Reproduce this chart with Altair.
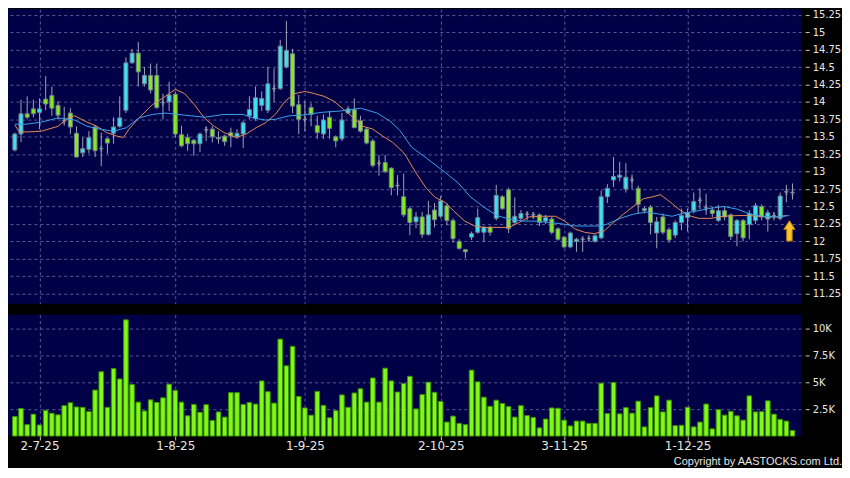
import altair as alt
import pandas as pd
import numpy as np

# ---------------- data ----------------
opens = [13.31, 13.54, 13.83, 13.90, 13.85, 14.04, 14.09, 13.95, 13.73, 13.84,
         13.55, 13.27, 13.32, 13.64, 13.33, 13.47, 13.55, 13.65, 13.88, 14.56,
         14.70, 14.26, 14.38, 14.38, 13.99, 14.00, 14.11, 13.53, 13.49, 13.45,
         13.40, 13.60, 13.61, 13.49, 13.51, 13.56, 13.50, 13.54, 13.80, 13.76,
         13.95, 13.88, 14.19, 14.19, 14.50, 14.69, 13.96, 13.75, 13.92, 13.66,
         13.54, 13.78, 13.50, 13.47, 13.84, 13.89, 13.73, 13.61, 13.44, 13.12,
         13.13, 13.05, 12.80, 12.64, 12.47, 12.28, 12.35, 12.10, 12.45, 12.36,
         12.51, 12.30, 12.00, 11.88, 12.06, 12.13, 12.13, 12.20, 12.33, 12.64,
         12.74, 12.27, 12.33, 12.39, 12.38, 12.38, 12.29, 12.32, 12.18, 12.06,
         11.92, 12.00, 12.03, 12.04, 12.00, 12.05, 12.64, 12.88, 12.92, 12.75,
         12.88, 12.76, 12.44, 12.49, 12.12, 12.35, 12.17, 12.09, 12.27, 12.34,
         12.44, 12.59, 12.48, 12.45, 12.30, 12.44, 12.38, 12.11, 12.30, 12.24,
         12.30, 12.50, 12.32, 12.37, 12.33, 12.71, 12.70]
highs = [13.56, 14.03, 14.08, 14.03, 14.05, 14.37, 14.22, 14.01, 13.93, 13.91,
         13.65, 13.49, 13.58, 13.67, 13.56, 13.49, 13.78, 14.08, 14.64, 14.76,
         14.86, 14.50, 14.55, 14.55, 14.12, 14.29, 14.15, 13.66, 13.54, 13.47,
         13.56, 13.65, 13.65, 13.58, 13.53, 13.63, 13.61, 13.73, 14.08, 14.22,
         14.15, 14.50, 14.48, 14.89, 15.16, 14.76, 14.10, 14.01, 13.98, 13.80,
         13.82, 13.87, 13.52, 13.84, 13.94, 14.05, 13.80, 13.64, 13.47, 13.24,
         13.24, 13.06, 12.95, 12.97, 12.50, 12.42, 12.42, 12.58, 12.55, 12.65,
         12.55, 12.33, 12.03, 11.89, 12.14, 12.47, 12.22, 12.22, 12.81, 12.66,
         12.77, 12.63, 12.45, 12.42, 12.42, 12.40, 12.38, 12.35, 12.20, 12.08,
         12.14, 12.05, 12.06, 12.08, 12.10, 12.73, 12.82, 13.21, 13.14, 13.12,
         12.96, 12.80, 12.50, 12.52, 12.35, 12.40, 12.20, 12.30, 12.47, 12.47,
         12.70, 12.76, 12.68, 12.50, 12.52, 12.50, 12.40, 12.32, 12.32, 12.45,
         12.55, 12.53, 12.45, 12.42, 12.70, 12.81, 12.83]
lows = [13.29, 13.42, 13.75, 13.78, 13.61, 13.88, 13.80, 13.75, 13.66, 13.54,
        13.20, 13.21, 13.26, 13.21, 13.08, 13.26, 13.40, 13.63, 13.84, 14.55,
        14.22, 14.22, 14.12, 13.90, 13.75, 13.87, 13.49, 13.35, 13.30, 13.23,
        13.28, 13.44, 13.42, 13.40, 13.37, 13.35, 13.47, 13.34, 13.75, 13.73,
        13.87, 13.84, 14.00, 14.17, 14.48, 13.84, 13.54, 13.58, 13.65, 13.47,
        13.47, 13.47, 13.35, 13.44, 13.83, 13.63, 13.56, 13.39, 13.06, 12.94,
        12.98, 12.66, 12.66, 12.35, 12.09, 12.19, 12.05, 12.08, 12.20, 12.33,
        12.23, 11.98, 11.88, 11.76, 12.02, 12.11, 11.99, 12.08, 12.30, 12.45,
        12.12, 12.24, 12.30, 12.30, 12.32, 12.22, 12.25, 12.10, 12.01, 11.90,
        11.90, 11.85, 11.85, 12.00, 11.98, 12.03, 12.55, 12.78, 12.86, 12.70,
        12.75, 12.40, 12.40, 12.10, 11.90, 12.10, 11.98, 12.05, 12.16, 12.14,
        12.40, 12.46, 12.38, 12.35, 12.28, 12.30, 12.02, 11.93, 12.00, 12.03,
        12.25, 12.30, 12.14, 12.30, 12.30, 12.56, 12.60]
closes = [13.54, 13.83, 13.78, 13.83, 13.90, 13.97, 13.91, 13.81, 13.73, 13.64,
          13.21, 13.33, 13.49, 13.30, 13.33, 13.41, 13.64, 13.77, 14.56, 14.70,
          14.43, 14.38, 14.17, 13.92, 13.99, 14.10, 13.54, 13.37, 13.40, 13.40,
          13.54, 13.60, 13.50, 13.47, 13.43, 13.51, 13.55, 13.70, 13.89, 14.06,
          14.05, 14.26, 14.19, 14.80, 14.74, 13.94, 13.75, 13.75, 13.82, 13.56,
          13.74, 13.62, 13.44, 13.74, 13.90, 13.63, 13.58, 13.41, 13.09, 13.12,
          13.00, 12.77, 12.80, 12.38, 12.27, 12.35, 12.10, 12.38, 12.31, 12.58,
          12.30, 12.04, 11.90, 11.85, 12.11, 12.34, 12.20, 12.13, 12.66, 12.47,
          12.18, 12.36, 12.40, 12.39, 12.38, 12.27, 12.34, 12.13, 12.03, 11.92,
          12.12, 12.03, 12.03, 12.04, 12.08, 12.64, 12.76, 12.93, 12.95, 12.92,
          12.88, 12.53, 12.47, 12.27, 12.28, 12.13, 12.02, 12.27, 12.37, 12.41,
          12.57, 12.59, 12.48, 12.40, 12.44, 12.35, 12.07, 12.30, 12.05, 12.40,
          12.51, 12.35, 12.41, 12.37, 12.65, 12.71, 12.70]
volumes_k = [1.82, 2.55, 1.06, 2.03, 1.03, 2.39, 2.12, 1.97, 2.82, 3.09,
             2.70, 2.67, 2.27, 4.27, 5.97, 2.67, 6.27, 5.30, 10.79, 4.79,
             3.15, 2.33, 3.36, 3.12, 3.55, 4.82, 4.24, 3.15, 1.88, 2.94,
             2.21, 2.91, 1.45, 2.24, 1.76, 4.03, 4.03, 2.94, 3.12, 2.97,
             5.12, 4.12, 3.06, 9.00, 6.52, 8.33, 3.67, 2.61, 1.94, 4.15,
             2.85, 1.70, 2.36, 3.82, 2.67, 4.00, 4.39, 3.15, 5.39, 3.15,
             6.30, 5.12, 4.09, 4.88, 5.55, 2.52, 3.85, 5.00, 4.06, 3.21,
             1.30, 1.85, 1.18, 1.06, 6.12, 5.03, 3.61, 2.76, 3.33, 3.03,
             2.73, 1.76, 2.82, 1.91, 1.73, 0.76, 1.58, 2.61, 2.58, 1.48,
             0.94, 1.39, 1.39, 1.18, 1.18, 4.91, 2.09, 4.97, 2.06, 2.64,
             2.12, 3.24, 0.85, 2.64, 3.73, 2.24, 3.33, 0.97, 1.00, 2.67,
             0.85, 1.30, 2.97, 0.67, 2.45, 1.94, 2.30, 1.88, 1.48, 3.73,
             2.24, 2.27, 3.27, 2.03, 1.55, 1.39, 0.52]

# moving averages (position in trading days, price)
ma_short_idx = [0, 0.7, 2.3, 4.3, 7.0, 8.6, 9.7, 11.7, 13.3, 14.9, 16.5, 17.6, 18.5, 20.1,
                22.3, 24.4, 26.0, 27.5, 29.1, 30.7, 32.3, 33.9, 35.9, 37.5, 39.1, 40.6,
                42.2, 43.8, 45.4, 47.0, 48.5, 50.1, 51.7, 53.3, 54.9, 56.4, 58.0, 59.6,
                61.2, 62.8, 63.4, 65.0, 66.6, 68.1, 69.7, 71.3, 72.9, 74.5, 76.0, 78.1,
                80.1, 81.7, 83.3, 85.5, 87.6, 89.1, 90.7, 92.3, 93.9, 95.5, 97.0, 98.6,
                100.2, 101.8, 103.4, 104.6, 106.1, 107.6, 109.2, 110.8, 112.8, 114.9,
                117.1, 118.7, 120.3, 121.9, 123.4, 125.0]
ma_short_val = [13.67, 13.57, 13.57, 13.58, 13.65, 13.77, 13.80, 13.71, 13.65, 13.56, 13.51,
                13.49, 13.61, 13.77, 13.96, 14.08, 14.18, 14.12, 13.96, 13.77, 13.65, 13.56,
                13.49, 13.54, 13.63, 13.70, 13.82, 14.01, 14.12, 14.15, 14.12, 14.08, 14.01,
                13.89, 13.77, 13.65, 13.61, 13.51, 13.42, 13.29, 13.22, 12.98, 12.77, 12.63,
                12.56, 12.42, 12.29, 12.22, 12.20, 12.20, 12.20, 12.27, 12.35, 12.36, 12.36,
                12.29, 12.18, 12.13, 12.11, 12.15, 12.27, 12.39, 12.50, 12.61, 12.64, 12.67,
                12.57, 12.46, 12.37, 12.33, 12.33, 12.36, 12.37, 12.37, 12.36, 12.35, 12.35,
                12.37]
ma_long_idx = [0, 1.8, 4.3, 7.0, 9.7, 11.7, 13.8, 16.0, 18.1, 20.1, 22.3, 24.4, 26.4, 28.6,
               30.7, 32.3, 33.9, 37.0, 38.6, 40.6, 42.2, 44.4, 46.5, 49.7, 52.8, 56.0, 58.7,
               60.7, 62.3, 64.3, 66.6, 69.7, 71.8, 73.8, 76.0, 78.1, 80.1, 82.4, 84.4, 86.5,
               88.7, 90.7, 92.8, 95.0, 96.0, 98.1, 100.2, 102.3, 104.5, 106.5, 108.1, 110.2,
               112.4, 114.9, 117.1, 119.2, 121.2, 123.4, 125.5]
ma_long_val = [13.68, 13.68, 13.71, 13.77, 13.74, 13.65, 13.61, 13.58, 13.63, 13.77, 13.82,
               13.84, 13.82, 13.80, 13.78, 13.80, 13.82, 13.82, 13.77, 13.74, 13.75, 13.80,
               13.81, 13.85, 13.87, 13.91, 13.84, 13.73, 13.60, 13.35, 13.20, 12.99, 12.84,
               12.64, 12.49, 12.37, 12.32, 12.29, 12.29, 12.27, 12.25, 12.22, 12.22, 12.22,
               12.25, 12.33, 12.39, 12.42, 12.39, 12.36, 12.40, 12.43, 12.47, 12.50, 12.46,
               12.39, 12.36, 12.35, 12.37]

date_tick_idx = [4, 26, 47, 69, 89, 109]
date_tick_labels = ["2-7-25", "1-8-25", "1-9-25", "2-10-25", "3-11-25", "1-12-25"]
price_ticks = [11.25, 11.5, 11.75, 12, 12.25, 12.5, 12.75, 13, 13.25, 13.5, 13.75,
               14, 14.25, 14.5, 14.75, 15, 15.25]
volume_ticks_k = [2.5, 5, 7.5, 10]
arrow_idx = [125.5]
arrow_price = [12.15]
copyright_text = ["Copyright by AASTOCKS.com Ltd."]

# ---------------- styling ----------------
BG = "#000000"
PLOT_BG = "#000046"
GRID = "#5a5a96"
LABEL = "#e6e6e6"
UP = "#3ce2f0"
DOWN = "#84ea20"
FLAT = "#8c9aa8"
VOL = "#80f818"

df = pd.DataFrame({"i": range(len(opens)), "open": opens, "high": highs,
                   "low": lows, "close": closes, "vol": volumes_k})
df["dir"] = np.where(df["close"] > df["open"], "up",
                     np.where(df["close"] < df["open"], "down", "flat"))

ma_s = pd.DataFrame({"i": ma_short_idx, "v": ma_short_val})
ma_l = pd.DataFrame({"i": ma_long_idx, "v": ma_long_val})
arrow = pd.DataFrame({"i": arrow_idx, "p": arrow_price})
cr = pd.DataFrame({"t": copyright_text})

W = 797
VOL_H = 122
xscale = alt.Scale(domain=[-0.3, 126.6], nice=False, zero=False)
pscale = alt.Scale(domain=[11.106, 15.331], nice=False, zero=False)
vscale = alt.Scale(domain=[0, 11.27], nice=False)

x_grid_only = alt.Axis(values=date_tick_idx, labels=False, ticks=False, domain=False,
                       grid=True, title=None)
label_expr = " : ".join(f"datum.value == {i} ? '{l}'"
                        for i, l in zip(date_tick_idx, date_tick_labels)) + " : ''"
x_dates = alt.Axis(values=date_tick_idx, labelExpr=label_expr, grid=True, domain=False,
                   ticks=True, tickSize=4, tickColor="#c8c8c8", labelPadding=1,
                   labelFontSize=12, labelColor=LABEL, title=None, labelFont="DejaVu Sans",
                   labelOverlap=False)

p_axis = alt.Axis(values=price_ticks, labelExpr="toString(datum.value)", orient="right",
                  grid=True, domain=False, offset=4, tickSize=4, tickColor="#c8c8c8",
                  labelPadding=3, labelColor=LABEL, labelFontSize=10, title=None,
                  labelFont="DejaVu Sans", labelOverlap=False, labelFlush=False)
v_axis = alt.Axis(values=volume_ticks_k, labelExpr="datum.value + 'K'", orient="right",
                  grid=True, domain=False, offset=4, tickSize=4, tickColor="#c8c8c8",
                  labelPadding=3, labelColor=LABEL, labelFontSize=10, title=None,
                  labelFont="DejaVu Sans", labelOverlap=False, labelFlush=False)

X = alt.X("i:Q", scale=xscale, axis=x_grid_only)

color = alt.Color("dir:N", scale=alt.Scale(domain=["up", "down", "flat"],
                                           range=[UP, DOWN, FLAT]), legend=None)

wicks = alt.Chart(df).mark_rule(color="#a0a4b4", strokeWidth=1).encode(
    x=X, y=alt.Y("low:Q", scale=pscale, axis=p_axis), y2="high:Q")
bodies = alt.Chart(df).mark_bar(size=4, stroke="#6f7f8f", strokeWidth=1).encode(
    x=X, y=alt.Y("open:Q", scale=pscale, axis=p_axis), y2="close:Q", color=color)
dojis = alt.Chart(df).transform_filter("datum.dir == 'flat'").mark_tick(
    thickness=2, size=6, color=FLAT).encode(
    x=X, y=alt.Y("close:Q", scale=pscale, axis=p_axis))
line_s = alt.Chart(ma_s).mark_line(color="#e58a58", strokeWidth=1).encode(
    x=X, y=alt.Y("v:Q", scale=pscale, axis=p_axis))
line_l = alt.Chart(ma_l).mark_line(color="#3aa2ea", strokeWidth=1).encode(
    x=X, y=alt.Y("v:Q", scale=pscale, axis=p_axis))
arrow_path = "M0,-1L0.55,-0.15L0.27,-0.15L0.27,1L-0.27,1L-0.27,-0.15L-0.55,-0.15Z"
arrow_mark = alt.Chart(arrow).mark_point(shape=arrow_path, size=420, filled=True,
                                         fill="#f6c42c", stroke="#b57a0c",
                                         strokeWidth=1, opacity=1).encode(
    x=X, y=alt.Y("p:Q", scale=pscale, axis=p_axis))

price = alt.layer(wicks, bodies, dojis, line_s, line_l, arrow_mark).properties(
    width=W, height=296)

vol_bars = alt.Chart(df).mark_bar(size=4.6, fill=VOL, stroke="#3a8e00",
                                  strokeWidth=1).encode(
    x=alt.X("i:Q", scale=xscale, axis=x_dates),
    y=alt.Y("vol:Q", scale=vscale, axis=v_axis))
cr_text = alt.Chart(cr).mark_text(align="right", baseline="bottom", fontSize=11,
                                  color=LABEL, font="Liberation Sans").encode(
    x=alt.value(838), y=alt.value(VOL_H + 31), text="t:N")
volume = alt.layer(vol_bars, cr_text).properties(width=W, height=VOL_H)

chart = alt.vconcat(price, volume, spacing=11).properties(
    background=BG, padding=0
).configure_view(fill=PLOT_BG, stroke=None).configure_axis(
    gridColor=GRID, gridDash=[3, 3], gridWidth=1, gridOpacity=1
)

chart.save("out.html", embed_options={"renderer": "svg", "actions": False})
